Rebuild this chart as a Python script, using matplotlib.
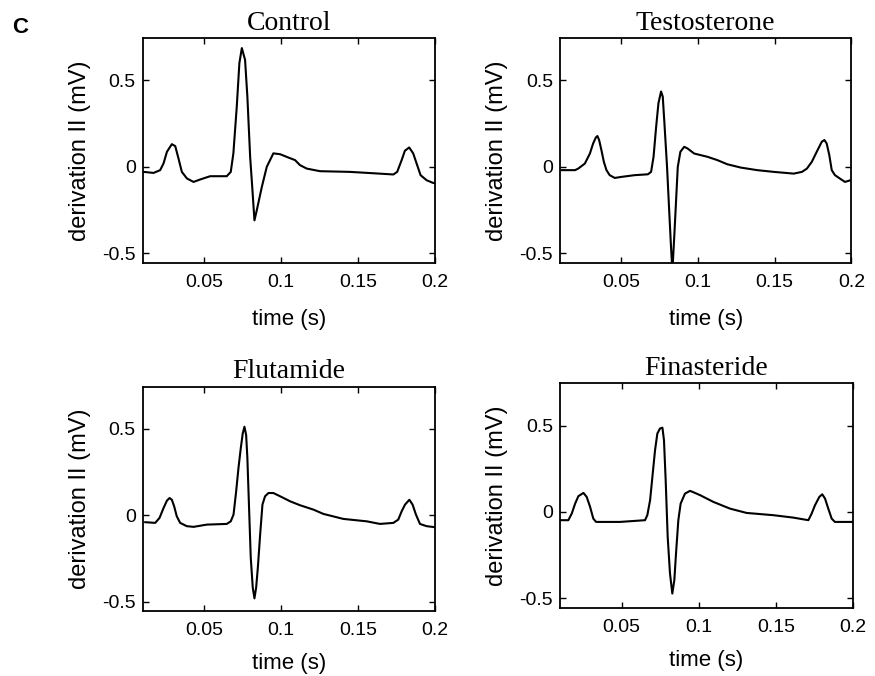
import matplotlib
matplotlib.use('Agg')
import matplotlib.pyplot as plt

control_t = [0.0106, 0.0171, 0.0214, 0.0236, 0.0258, 0.029, 0.0312, 0.0333, 0.0355, 0.0388,
             0.0431, 0.0474, 0.0539, 0.0647, 0.0673, 0.069, 0.0712, 0.0729, 0.0745, 0.0766,
             0.0781, 0.0799, 0.0814, 0.0827, 0.0842, 0.0875, 0.0907, 0.095, 0.0994, 0.1047,
             0.1091, 0.1123, 0.1167, 0.1253, 0.1448, 0.1621, 0.173, 0.1755, 0.1784, 0.1805,
             0.1833, 0.1859, 0.1881, 0.1907, 0.1946, 0.1989, 0.2]
control_v = [-0.029, -0.035, -0.019, 0.020, 0.087, 0.131, 0.12, 0.049, -0.029, -0.067,
             -0.087, -0.073, -0.054, -0.054, -0.029, 0.078, 0.347, 0.599, 0.686, 0.618,
             0.405, 0.058, -0.135, -0.309, -0.251, -0.116, 0.0, 0.078, 0.073, 0.054,
             0.039, 0.010, -0.010, -0.025, -0.029, -0.038, -0.044, -0.029, 0.039, 0.093,
             0.112, 0.078, 0.020, -0.048, -0.077, -0.093, -0.093]

testo_t = [0.0111, 0.0198, 0.0219, 0.0262, 0.0295, 0.0316, 0.0334, 0.0344, 0.0355, 0.037,
           0.0386, 0.0403, 0.0424, 0.0457, 0.05, 0.0586, 0.0673, 0.0694, 0.071, 0.0727,
           0.0742, 0.0759, 0.077, 0.0781, 0.0798, 0.0813, 0.0824, 0.0833, 0.0846, 0.0857,
           0.0868, 0.0885, 0.091, 0.0932, 0.0975, 0.1062, 0.1126, 0.1191, 0.1278, 0.1386,
           0.1494, 0.1624, 0.1678, 0.171, 0.1742, 0.1774, 0.1807, 0.1824, 0.1839, 0.1856,
           0.1872, 0.1893, 0.1926, 0.1958, 0.1995]
testo_v = [-0.019, -0.019, -0.010, 0.019, 0.077, 0.135, 0.170, 0.178, 0.155, 0.097,
           0.029, -0.019, -0.048, -0.064, -0.058, -0.048, -0.043, -0.029, 0.058, 0.232,
           0.368, 0.435, 0.406, 0.251, 0.0, -0.271, -0.464, -0.6, -0.387, -0.193,
           0.0, 0.087, 0.116, 0.106, 0.077, 0.058, 0.039, 0.015, -0.004, -0.019,
           -0.029, -0.039, -0.029, -0.010, 0.029, 0.087, 0.145, 0.155, 0.135, 0.068,
           -0.019, -0.048, -0.068, -0.087, -0.077]

fluta_t = [0.0117, 0.0182, 0.021, 0.0236, 0.0258, 0.0275, 0.029, 0.0305, 0.0322, 0.0344,
           0.0387, 0.0431, 0.0517, 0.0647, 0.0673, 0.0691, 0.0708, 0.0723, 0.0738, 0.0751,
           0.0762, 0.0773, 0.0781, 0.0792, 0.0803, 0.0816, 0.0827, 0.0838, 0.0849, 0.0864,
           0.0879, 0.0896, 0.0918, 0.095, 0.0994, 0.1059, 0.1124, 0.121, 0.1275, 0.1405,
           0.1557, 0.1643, 0.173, 0.1762, 0.1784, 0.1806, 0.1834, 0.1855, 0.1877, 0.1903,
           0.1946, 0.2]
fluta_v = [-0.040, -0.044, -0.015, 0.042, 0.085, 0.1, 0.090, 0.052, -0.006, -0.044,
           -0.063, -0.067, -0.054, -0.05, -0.035, 0.004, 0.138, 0.273, 0.388, 0.475,
           0.513, 0.465, 0.331, 0.042, -0.246, -0.419, -0.481, -0.419, -0.304, -0.112,
           0.062, 0.110, 0.129, 0.129, 0.110, 0.081, 0.058, 0.033, 0.008, -0.021,
           -0.035, -0.05, -0.044, -0.025, 0.023, 0.062, 0.090, 0.062, 0.004, -0.05,
           -0.063, -0.069]

fina_t = [0.0105, 0.0154, 0.0176, 0.0198, 0.0219, 0.0252, 0.0273, 0.0295, 0.0316, 0.0334,
          0.0489, 0.0651, 0.0666, 0.0684, 0.0701, 0.0716, 0.0731, 0.0748, 0.0764, 0.0774,
          0.0785, 0.0798, 0.0813, 0.0828, 0.0841, 0.0852, 0.0867, 0.0882, 0.091, 0.0943,
          0.0975, 0.1008, 0.1094, 0.1202, 0.131, 0.1483, 0.1612, 0.171, 0.1731, 0.1753,
          0.1781, 0.18, 0.1818, 0.1839, 0.1861, 0.1882, 0.2]
fina_v = [-0.048, -0.048, -0.010, 0.048, 0.091, 0.110, 0.087, 0.029, -0.039, -0.058,
          -0.058, -0.048, -0.019, 0.068, 0.222, 0.357, 0.454, 0.483, 0.488, 0.415,
          0.183, -0.145, -0.357, -0.473, -0.396, -0.241, -0.048, 0.048, 0.106, 0.122,
          0.110, 0.097, 0.058, 0.019, -0.006, -0.019, -0.033, -0.048, -0.010, 0.039,
          0.087, 0.102, 0.077, 0.019, -0.039, -0.058, -0.058]

titles = ['Control', 'Testosterone', 'Flutamide', 'Finasteride']
traces = [(control_t, control_v), (testo_t, testo_v), (fluta_t, fluta_v), (fina_t, fina_v)]
xticks = [0.05, 0.1, 0.15, 0.2]
xticklabels = ['0.05', '0.1', '0.15', '0.2']
yticks = [-0.5, 0, 0.5]
yticklabels = ['-0.5', '0', '0.5']

# axes rectangles [left, bottom, width, height] in figure fractions
rects = [[0.163, 0.611, 0.334, 0.333],
         [0.640, 0.611, 0.333, 0.333],
         [0.163, 0.096, 0.334, 0.332],
         [0.640, 0.101, 0.335, 0.332]]
xlabel_pads = [13, 13, 10, 10]

sans = 'Liberation Sans'
serif = 'Liberation Serif'

fig = plt.figure(figsize=(8.75, 6.76), dpi=100)
for rect, title, (t, v), lp in zip(rects, titles, traces, xlabel_pads):
    ax = fig.add_axes(rect)
    ax.plot(t, v, color='black', linewidth=1.5, solid_joinstyle='round')
    ax.set_xlim(0.01, 0.2)
    ax.set_ylim(-0.555, 0.745)
    ax.set_xticks(xticks)
    ax.set_xticklabels(xticklabels, family=sans, fontsize=14)
    ax.set_yticks(yticks)
    ax.set_yticklabels(yticklabels, family=sans, fontsize=14)
    ax.tick_params(axis='both', direction='in', top=True, right=True, length=4, width=1)
    ax.tick_params(axis='x', pad=8)
    ax.tick_params(axis='y', pad=5)
    for s in ax.spines.values():
        s.set_linewidth(1.3)
    ax.set_title(title, family=serif, fontsize=20, pad=6)
    ax.set_xlabel('time (s)', family=sans, fontsize=16, labelpad=lp)
    ax.set_ylabel('derivation II (mV)', family=sans, fontsize=17, labelpad=8)

fig.text(0.014, 0.975, 'C', family=sans, fontsize=16, fontweight='bold', va='top', ha='left')

fig.savefig('out.png', dpi=100)
